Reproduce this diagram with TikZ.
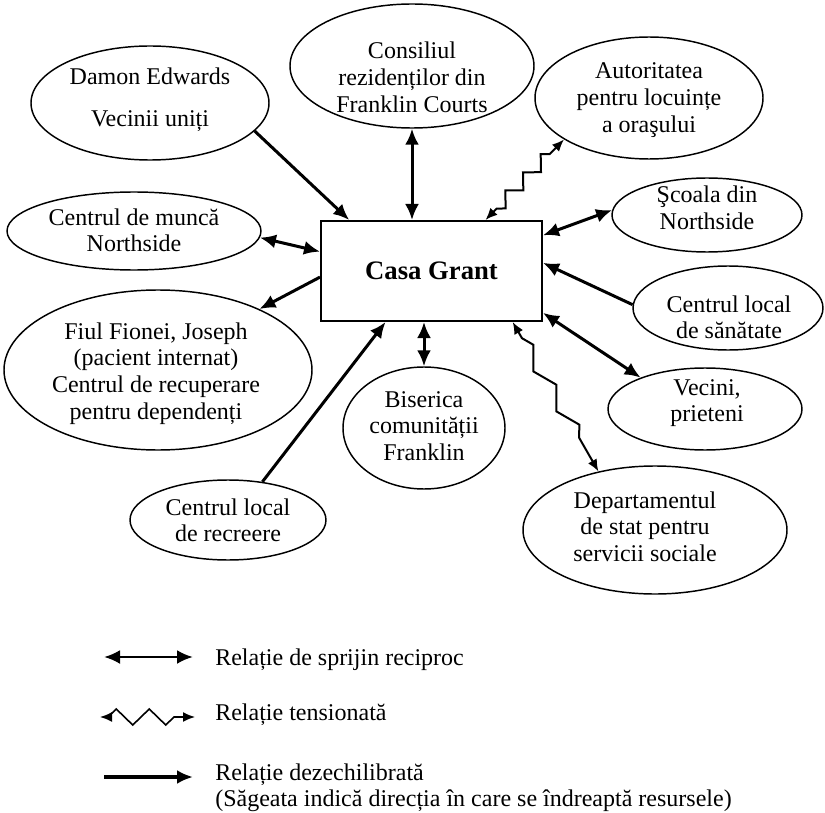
\documentclass[tikz,border=0pt]{standalone}
\usepackage{fontspec}
\setmainfont{Liberation Serif}
\usetikzlibrary{arrows.meta,calc,shapes.geometric,decorations.pathmorphing}
\newcommand{\mylines}[1]{\begin{tabular}[t]{@{}c@{}}#1\end{tabular}}

\tikzset{
  bigtip/.tip={Latex[length=12pt,width=10.5pt]},
  smalltip/.tip={Latex[length=9pt,width=7.5pt]},
  ent/.style 2 args={ellipse, draw, line width=1.1pt, inner sep=0pt,
    minimum width=#1*0.75pt, minimum height=#2*0.75pt},
  lbl/.style={anchor=base, inner sep=0pt, font=\fontsize{18pt}{20pt}\selectfont},
  mutual/.style={line width=2.25pt, bigtip-bigtip},
  oneway/.style={line width=2.25pt, -bigtip},
  strain/.style={line width=1.5pt, smalltip-smalltip, decorate},
}

\begin{document}
\begin{tikzpicture}[x=0.75pt, y=-0.75pt]
\useasboundingbox (0,0) rectangle (825,813);
\fill[white] (0,0) rectangle (825,813);

% central household
\node[draw, line width=1.5pt, inner sep=0pt,
      minimum width=221*0.75pt, minimum height=100*0.75pt,
      font=\fontsize{20pt}{24pt}\selectfont\bfseries] (box) at (431.5,271) {Casa Grant};

% surrounding systems (outline + text)
\node[ent={238}{114}] (damon) at (150,103) {};
\node[lbl] (damon-t) at (150,85) {\mylines{Damon Edwards\\[11.5pt]Vecinii uniți}};

\node[ent={254}{78}] (munca) at (134,231) {};
\node[lbl] (munca-t) at (134,225) {\mylines{Centrul de muncă\\Northside}};

\node[ent={244}{124}] (cons) at (412,66) {};
\node[lbl] (cons-t) at (412,59) {\mylines{Consiliul\\rezidenților din\\Franklin Courts}};

\node[ent={228}{122}] (auth) at (649,98) {};
\node[lbl] (auth-t) at (649,79) {\mylines{Autoritatea\\pentru locuințe\\a oraşului}};

\node[ent={190}{74}] (scoala) at (707,215) {};
\node[lbl] (scoala-t) at (707,203) {\mylines{Şcoala din\\Northside}};

\node[ent={190}{84}] (sanat) at (728,308) {};
\node[lbl] (sanat-t) at (729,312) {\mylines{Centrul local\\de sănătate}};

\node[ent={194}{82}] (vecini) at (705,409) {};
\node[lbl] (vecini-t) at (707,395) {\mylines{Vecini,\\prieteni}};

\node[ent={264}{128}] (dept) at (655,530) {};
\node[lbl] (dept-t) at (645,508) {\mylines{Departamentul\\de stat pentru\\servicii sociale}};

\node[ent={162}{122}] (bis) at (424,428) {};
\node[lbl] (bis-t) at (424,407) {\mylines{Biserica\\comunității\\Franklin}};

\node[ent={196}{80}] (recr) at (228,520) {};
\node[lbl] (recr-t) at (228,515) {\mylines{Centrul local\\de recreere}};

\node[ent={308}{160}] (fiul) at (158,370) {};
\node[lbl] (fiul-t) at (156,339) {\mylines{Fiul Fionei, Joseph\\(pacient internat)\\Centrul de recuperare\\pentru dependenți}};

% relations
\draw[oneway] (damon.-15) -- ($(box.north west)!0.131!(box.north east)$);
\draw[mutual] (cons.south) -- (cons.south |- box.north);
\draw[strain, decoration={zigzag, mirror, segment length=19pt, amplitude=4.8pt,
      pre length=12pt, post length=12pt}]
  ($(box.north west)!0.742!(box.north east)$) -- (auth.206);
\draw[mutual] (munca.-3) -- ($(box.north west)!0.31!(box.south west)$);
\draw[oneway] ($(box.north west)!0.56!(box.south west)$) -- (fiul.31);
\draw[oneway] (recr.48) -- ($(box.south west)!0.294!(box.south east)$);
\draw[mutual] (bis.north) -- (bis.north |- box.south);
\draw[mutual] ($(box.north east)!0.15!(box.south east)$) -- (scoala.177);
\draw[oneway] (sanat.178) -- ($(box.north east)!0.42!(box.south east)$);
\draw[mutual] ($(box.north east)!0.91!(box.south east)$) -- (vecini.154);
\draw[strain, decoration={zigzag, segment length=34.5pt, amplitude=5pt,
      pre length=14pt, post length=12pt}]
  ($(box.south west)!0.864!(box.south east)$) -- (dept.134.5);

% legend
\coordinate (l1a) at (104,657); \coordinate (l1b) at (193,657);
\coordinate (l2a) at (100,717); \coordinate (l2b) at (195,717);
\coordinate (l3a) at (104,777); \coordinate (l3b) at (193,777);
\draw[mutual, line width=2pt] (l1a) -- (l1b);
\draw[line width=1.2pt, smalltip-smalltip, decorate,
      decoration={zigzag, segment length=24.75pt, amplitude=6pt,
      pre length=6pt, post length=15pt}] (l2a) -- (l2b);
\draw[oneway, line width=3pt] (l3a) -- (l3b);

\node[lbl, anchor=base west] (t1) at (215,665) {Relație de sprijin reciproc};
\node[lbl, anchor=base west] (t2) at (215,720) {Relație tensionată};
\node[lbl, anchor=base west] (t3) at (215,780)
  {\begin{tabular}[t]{@{}l@{}}Relație dezechilibrată\\(Săgeata indică direcția în care se îndreaptă resursele)\end{tabular}};
\end{tikzpicture}
\end{document}
